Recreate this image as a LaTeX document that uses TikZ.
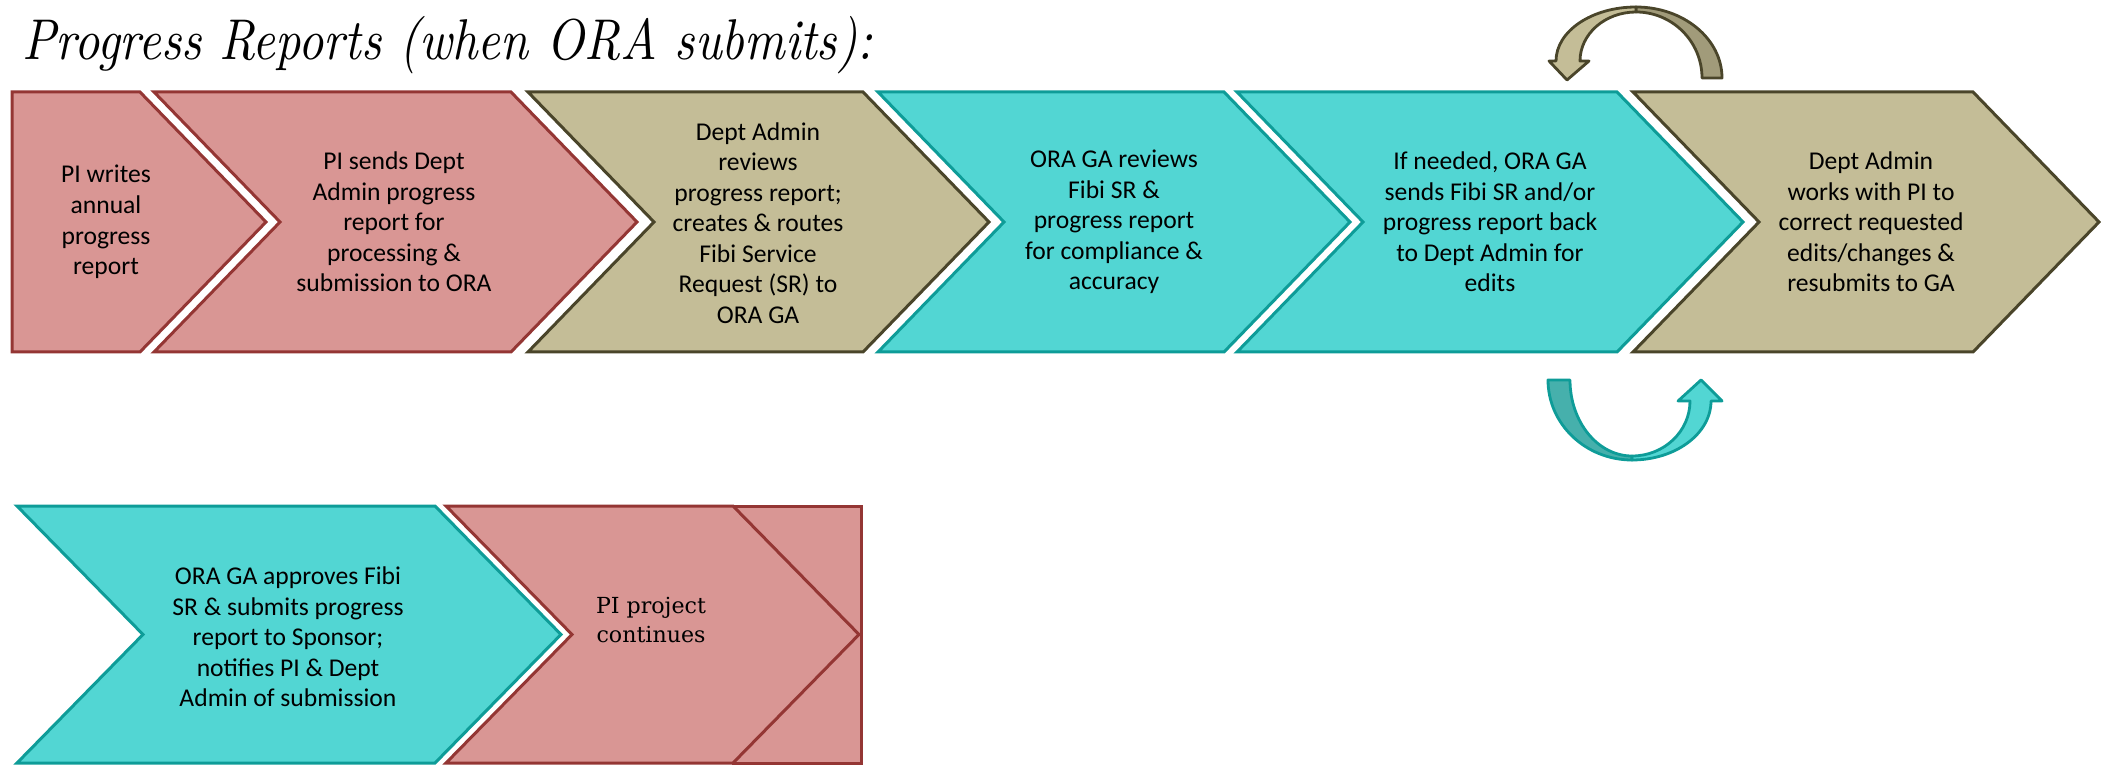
\documentclass[tikz,border=0pt]{standalone}
\usepackage{fontspec}
\usepackage{graphicx}
\newfontfamily\calibri{Carlito}
\newfontfamily\schoolserif{DejaVu Serif}

\definecolor{pinkfill}{HTML}{D99694}
\definecolor{pinkline}{HTML}{943634}
\definecolor{tanfill}{HTML}{C4BD97}
\definecolor{tandark}{HTML}{A19B7A}
\definecolor{tanline}{HTML}{4A452A}
\definecolor{tealfill}{HTML}{52D6D3}
\definecolor{tealdark}{HTML}{46B0AC}
\definecolor{tealline}{HTML}{0E9C98}

% chevron: style, left x, tip x, top y, bottom y, notch depth
\newcommand{\chevronpath}[6]{%
  \path[#1] (#2,#4) -- ({#3-126},#4) -- (#3,{(#4+#5)/2}) -- ({#3-126},#5)
    -- (#2,#5) -- ({#2+#6},{(#4+#5)/2}) -- cycle;}

\begin{document}
\begin{tikzpicture}[x=0.75pt,y=-0.75pt,
  chev/.style={line width=2.25pt, line join=miter},
  pinkbox/.style={chev, fill=pinkfill, draw=pinkline},
  tanbox/.style={chev, fill=tanfill, draw=tanline},
  tealbox/.style={chev, fill=tealfill, draw=tealline},
  curlarrow/.style={line width=2.1pt, line join=round},
  steptext/.style={font=\calibri\fontsize{19.2}{22.9}\selectfont, align=center, inner sep=0pt, text=black},
  seriftext/.style={font=\schoolserif\fontsize{16.6}{21.75}\selectfont, align=center, inner sep=0pt, text=black}]

\useasboundingbox (0,0) rectangle (2101,766);

% title
\node[anchor=base west, inner sep=0pt] (title) at (22,60)
  {\scalebox{1}[1.16]{\resizebox{637.5pt}{!}{\itshape Progress Reports (when ORA submits):}}};

% first row
\chevronpath{pinkbox}{12}{266}{92}{352}{0}
\chevronpath{pinkbox}{154}{637}{92}{352}{126}
\chevronpath{tanbox}{528}{989}{92}{352}{126}
\chevronpath{tealbox}{878}{1350}{92}{352}{126}
\chevronpath{tealbox}{1237}{1743}{92}{352}{126}
\chevronpath{tanbox}{1633}{2099}{92}{352}{126}

\node[steptext] (s1) at (106,222) {PI writes\\annual\\progress\\report};
\node[steptext] (s2) at (394,222) {PI sends Dept\\Admin progress\\report for\\processing \&\\submission to ORA};
\node[steptext] (s3) at (758,223) {Dept Admin\\reviews\\progress report;\\creates \& routes\\Fibi Service\\Request (SR) to\\ORA GA};
\node[steptext] (s4) at (1114,222) {ORA GA reviews\\Fibi SR \&\\progress report\\for compliance \&\\accuracy};
\node[steptext] (s5) at (1490,222) {If needed, ORA GA\\sends Fibi SR and/or\\progress report back\\to Dept Admin for\\edits};
\node[steptext] (s6) at (1871,222) {Dept Admin\\works with PI to\\correct requested\\edits/changes \&\\resubmits to GA};

% return loop above the row (tan)
\path[curlarrow, fill=tandark, draw=tanline]
  (1722,78) arc[start angle=0, end angle=-90, x radius=86, y radius=71]
  -- (1636,12) arc[start angle=-90, end angle=0, x radius=66, y radius=66] -- cycle;
\path[curlarrow, fill=tanfill, draw=tanline]
  (1636,7) arc[start angle=-90, end angle=-180, x radius=80, y radius=54]
  -- (1549,61) -- (1567,80) -- (1589,61) -- (1580,61)
  arc[start angle=180, end angle=270, x radius=56, y radius=49] -- cycle;

% return loop below the row (teal)
\path[curlarrow, fill=tealdark, draw=tealline]
  (1548,380) arc[start angle=180, end angle=90, x radius=84, y radius=80]
  -- (1632,456) arc[start angle=90, end angle=180, x radius=62, y radius=76] -- cycle;
\path[curlarrow, fill=tealfill, draw=tealline]
  (1632,460) arc[start angle=90, end angle=0, x radius=79, y radius=59]
  -- (1722,401) -- (1701,380) -- (1678,401) -- (1690,401)
  arc[start angle=0, end angle=90, x radius=58, y radius=55] -- cycle;

% second row
\chevronpath{tealbox}{17}{561}{506}{763}{126}
\path[pinkbox] (733,506) rectangle (861,763);
\chevronpath{pinkbox}{446}{859}{506}{763}{126}

\node[steptext] (s7) at (288,637) {ORA GA approves Fibi\\SR \& submits progress\\report to Sponsor;\\notifies PI \& Dept\\Admin of submission};
\node[seriftext] (s8) at (651,620) {PI project\\continues};
\end{tikzpicture}
\end{document}
